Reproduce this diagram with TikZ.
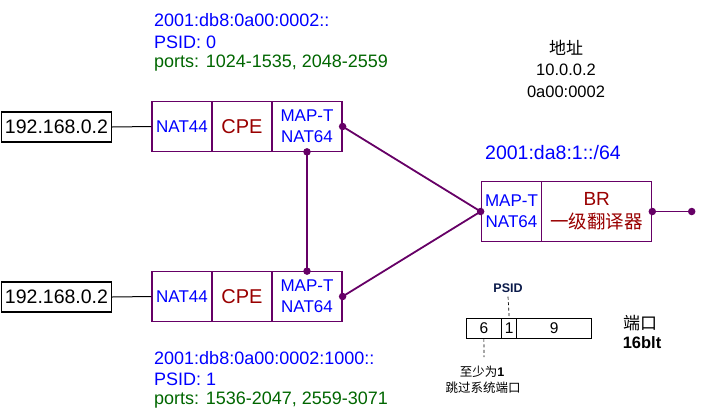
\documentclass[tikz,border=0pt]{standalone}
\usepackage{fontspec}
\setmainfont{Liberation Sans}
\newfontfamily\cjk{Noto Sans CJK SC}
\definecolor{pur}{HTML}{660066}
\definecolor{dred}{HTML}{990000}
\definecolor{dgreen}{HTML}{006600}
\definecolor{navy}{HTML}{0A1A4A}
\begin{document}
\begin{tikzpicture}[x=1pt,y=-1pt,
  cell/.style={draw=pur,line width=1.2pt,minimum height=49.5pt,inner sep=0pt,align=center,font=\fontsize{17}{21}\selectfont},
  ipbox/.style={draw=black,line width=1.2pt,minimum width=110pt,minimum height=30pt,inner sep=0pt,font=\fontsize{19.5}{21}\selectfont},
  dotn/.style={circle,fill=pur,inner sep=0pt,minimum size=7.5pt},
  conn/.style={draw=pur,line width=1.8pt},
  lbl/.style={anchor=west,inner sep=0pt,font=\fontsize{18}{20}\selectfont},
  pcell/.style={draw=black,line width=0.9pt,minimum height=20pt,inner sep=0pt,font=\fontsize{15.5}{18}\selectfont},
  small/.style={inner sep=0pt,font=\fontsize{12.5}{16}\selectfont,align=center},
  addr/.style={inner sep=0pt,font=\fontsize{16.5}{18}\selectfont}
]
\useasboundingbox (0,0) rectangle (703,418);

% top CPE
\node[ipbox] (ip1) at (56.5,127) {192.168.0.2};
\node[cell,minimum width=60pt,text=blue] (a1) at (182,126.5) {NAT44};
\node[cell,minimum width=60pt,text=dred,font=\fontsize{20}{21}\selectfont] (b1) at (242,126.5) {CPE};
\node[cell,minimum width=70pt,text=blue] (c1) at (307,126.5) {MAP-T\\NAT64};
\draw[line width=1pt] (ip1.east) -- (a1.west);

% bottom CPE
\node[ipbox] (ip2) at (56.5,297) {192.168.0.2};
\node[cell,minimum width=60pt,text=blue] (a2) at (182,296.5) {NAT44};
\node[cell,minimum width=60pt,text=dred,font=\fontsize{20}{21}\selectfont] (b2) at (242,296.5) {CPE};
\node[cell,minimum width=70pt,text=blue] (c2) at (307,296.5) {MAP-T\\NAT64};
\draw[line width=1pt] (ip2.east) -- (a2.west);

% BR
\node[cell,minimum width=60.5pt,minimum height=59.5pt,text=blue] (m) at (511.5,211.5) {MAP-T\\NAT64};
\node[cell,minimum width=110pt,minimum height=59.5pt,text=dred,font=\fontsize{19}{23}\selectfont] (br) at (596.7,211.5) {BR\\{\cjk\fontsize{18.5}{23}\selectfont 一级翻译器}};

% dots
\node[dotn] (d1r) at (c1.east) {};
\node[dotn] (d1b) at (c1.south) {};
\node[dotn] (d2t) at (c2.north) {};
\node[dotn] (d2r) at (c2.east) {};
\node[dotn] (dml) at (m.west) {};
\node[dotn] (dbr) at (br.east) {};
\node[dotn] (dend) at (691.7,211.5) {};

\draw[conn] (d1b.center) -- (d2t.center);
\draw[conn] (d1r.center) -- (dml.center);
\draw[conn] (d2r.center) -- (dml.center);
\draw[conn] (dbr.center) -- (dend.center);

% labels
\node[lbl,text=blue] (t1) at (154,20) {2001:db8:0a00:0002::};
\node[lbl,text=blue] (t2) at (154,42) {PSID: 0};
\node[lbl,text=dgreen] (t3) at (154,63) {ports: 1024-1535, 2048-2559};
\node[lbl,text=blue] (u1) at (154,358) {2001:db8:0a00:0002:1000::};
\node[lbl,text=blue] (u2) at (154,379) {PSID: 1};
\node[lbl,text=dgreen] (u3) at (154,400) {ports: 1536-2047, 2559-3071};

\node[addr,font=\cjk\fontsize{17}{18}\selectfont] (ad0) at (566,48) {地址};
\node[addr] (ad1) at (566,70) {10.0.0.2};
\node[addr] (ad2) at (566,91.5) {0a00:0002};
\node[lbl,text=blue,font=\fontsize{19.5}{20}\selectfont] (pre) at (485,153) {2001:da8:1::/64};

% port diagram
\node[pcell,minimum width=35.7pt] (p6) at (483.85,328.3) {6};
\node[pcell,minimum width=15pt] (p1) at (509.2,328.3) {1};
\node[pcell,minimum width=75pt] (p9) at (554.2,328.3) {9};
\node[small,text=navy] (psid) at (508,288) {\textbf{PSID}};
\draw[dashed,line width=0.7pt,dash pattern=on 3pt off 2.5pt] (psid.south) ++(0,4) -- (p1.north);
\coordinate (q) at (484,357);
\draw[dashed,line width=0.7pt,dash pattern=on 3pt off 2.5pt] (p6.south) -- (q);
\node[small] (n1) at (482,372) {{\cjk 至少为}\textbf{1}};
\node[small] (n2) at (483,388) {\cjk 跳过系统端口};
\node[inner sep=0pt,font=\cjk\fontsize{17}{18}\selectfont] (dk) at (640,323) {端口};
\node[inner sep=0pt,font=\bfseries\fontsize{16.5}{18}\selectfont] (bit) at (642,343) {16blt};
\end{tikzpicture}
\end{document}
